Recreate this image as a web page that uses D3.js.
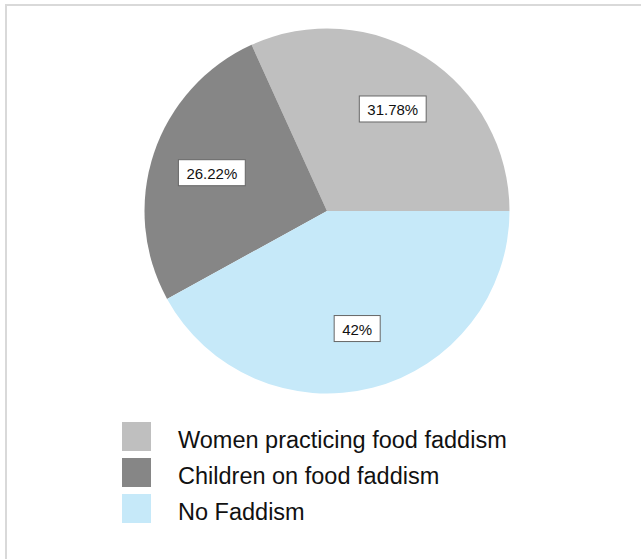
<!DOCTYPE html>
<html>
<head>
<meta charset="utf-8">
<script src="https://cdn.jsdelivr.net/npm/d3@7"></script>
<style>
  body { margin: 0; background: #fff; }
  svg { display: block; font-family: "Liberation Sans", Arial, sans-serif; }
</style>
</head>
<body>
<div id="chart"></div>
<script>
var categories = ['Women practicing food faddism', 'Children on food faddism', 'No Faddism'];
var values = [31.78, 26.22, 42];
var labels = ['31.78%', '26.22%', '42%'];
var colors = ['#bfbfbf', '#868686', '#c6e9f9'];

var width = 641;
var height = 559;
var cx = 327, cy = 211;
var radius = 182.5;

var svg = d3.select('#chart')
    .append('svg')
    .attr('width', width)
    .attr('height', height);

// outer frame, runs off the right and bottom edge
svg.append('rect')
    .attr('x', 6)
    .attr('y', 5)
    .attr('width', width + 20)
    .attr('height', height + 20)
    .attr('fill', 'none')
    .attr('stroke', '#d9d9d9')
    .attr('stroke-width', 2);

var data = categories.map(function(c, i) {
    return { name: c, value: values[i], label: labels[i], color: colors[i] };
});

// slices go counter-clockwise from 3 o'clock
var pie = d3.pie()
    .sort(null)
    .value(d => d.value)
    .startAngle(Math.PI / 2)
    .endAngle(Math.PI / 2 - 2 * Math.PI);

var arc = d3.arc().innerRadius(0).outerRadius(radius);
var labelArc = d3.arc().innerRadius(radius * 0.665).outerRadius(radius * 0.665);

var pieGroup = svg.append('g')
    .attr('transform', `translate(${cx}, ${cy})`);

pieGroup.selectAll('path')
    .data(pie(data))
    .enter()
    .append('path')
    .attr('d', arc)
    .attr('fill', d => d.data.color);

var labelGroups = pieGroup.selectAll('g.lbl')
    .data(pie(data))
    .enter()
    .append('g')
    .attr('class', 'lbl')
    .attr('transform', d => `translate(${labelArc.centroid(d)})`);

labelGroups.each(function(d) {
    var g = d3.select(this);
    var t = g.append('text')
        .text(d.data.label)
        .attr('text-anchor', 'middle')
        .attr('y', 6)
        .attr('font-size', '15px')
        .attr('fill', '#111');
    var w = t.node().getComputedTextLength() + 16;
    g.insert('rect', 'text')
        .attr('x', -w / 2)
        .attr('y', -13)
        .attr('width', w)
        .attr('height', 26)
        .attr('fill', '#fff')
        .attr('stroke', '#666')
        .attr('stroke-width', 1);
});

// legend
var legend = svg.append('g')
    .attr('transform', 'translate(122, 422)');

var rows = legend.selectAll('g')
    .data(data)
    .enter()
    .append('g')
    .attr('transform', (d, i) => `translate(0, ${i * 36})`);

rows.append('rect')
    .attr('width', 29)
    .attr('height', 29)
    .attr('fill', d => d.color);

rows.append('text')
    .attr('x', 56)
    .attr('y', 26)
    .attr('font-size', '23.5px')
    .attr('fill', '#111')
    .text(d => d.name);
</script>
</body>
</html>
